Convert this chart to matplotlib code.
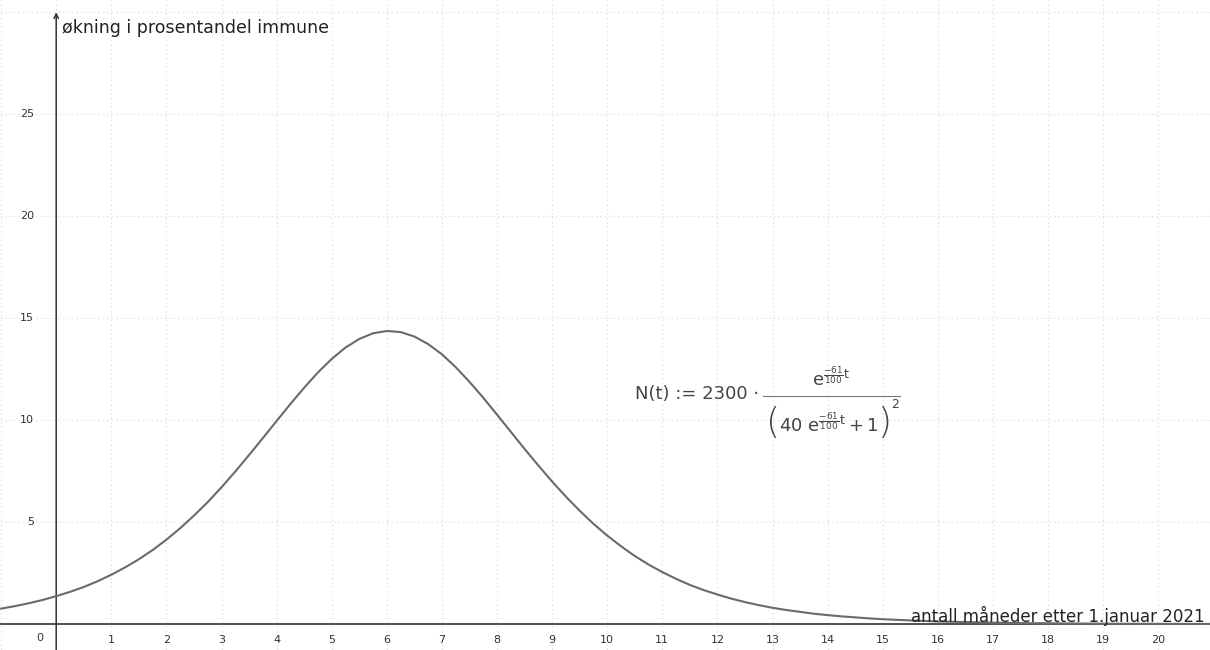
import matplotlib
matplotlib.use("Agg")
import matplotlib.pyplot as plt
from matplotlib.lines import Line2D

# Values (months after 1 Jan 2021, increase in % immune)
months = [-1.0, -0.75, -0.5, -0.25, 0.0, 0.25, 0.5, 0.75, 1.0, 1.25, 1.5, 1.75,
          2.0, 2.25, 2.5, 2.75, 3.0, 3.25, 3.5, 3.75, 4.0, 4.25, 4.5, 4.75,
          5.0, 5.25, 5.5, 5.75, 6.0, 6.25, 6.5, 6.75, 7.0, 7.25, 7.5, 7.75,
          8.0, 8.25, 8.5, 8.75, 9.0, 9.25, 9.5, 9.75, 10.0, 10.25, 10.5, 10.75,
          11.0, 11.25, 11.5, 11.75, 12.0, 12.25, 12.5, 12.75, 13.0, 13.25, 13.5,
          13.75, 14.0, 14.25, 14.5, 14.75, 15.0, 15.5, 16.0, 16.5, 17.0, 17.5,
          18.0, 18.5, 19.0, 19.5, 20.0, 20.5, 21.0]
increase = [0.76, 0.88, 1.02, 1.18, 1.37, 1.58, 1.82, 2.10, 2.42, 2.78, 3.18,
            3.63, 4.14, 4.70, 5.32, 5.98, 6.71, 7.48, 8.29, 9.12, 9.96, 10.79,
            11.59, 12.34, 13.00, 13.56, 13.98, 14.26, 14.37, 14.32, 14.10, 13.73,
            13.23, 12.60, 11.88, 11.10, 10.27, 9.43, 8.59, 7.78, 6.99, 6.25,
            5.56, 4.92, 4.34, 3.82, 3.34, 2.92, 2.55, 2.22, 1.92, 1.67, 1.45,
            1.25, 1.08, 0.93, 0.80, 0.69, 0.60, 0.51, 0.44, 0.38, 0.33, 0.28,
            0.24, 0.18, 0.13, 0.10, 0.07, 0.05, 0.04, 0.03, 0.02, 0.016, 0.012,
            0.009, 0.006]
x_ticks = list(range(1, 21))
y_ticks = [5, 10, 15, 20, 25]
x_grid = list(range(-1, 21))
y_grid = [5, 10, 15, 20, 25, 30]

y_label = "økning i prosentandel immune"
x_label = "antall måneder etter 1.januar 2021"
formula_lhs = "N(t) := 2300 ·"
formula_num = r"$\mathrm{e}^{\frac{-61}{100}\mathrm{t}}$"
formula_den = r"$40\ \mathrm{e}^{\frac{-61}{100}\mathrm{t}} + 1$"

W, H = 1210, 650
fig = plt.figure(figsize=(12.1, 6.5), dpi=100)
ax = fig.add_axes([0, 0, 1, 1])
ax.set_xlim(-1.02, 20.94)
ax.set_ylim(-1.27, 30.6)
for s in ax.spines.values():
    s.set_visible(False)
ax.set_xticks([])
ax.set_yticks([])

grid_kw = dict(color="#e2e2e2", linestyle=(0, (1.5, 2.5)), linewidth=0.8, zorder=0)
for gx in x_grid:
    ax.axvline(gx, **grid_kw)
for gy in y_grid:
    ax.axhline(gy, **grid_kw)

# axes
ax.axhline(0, color="#333333", linewidth=1.2, zorder=2)
ax.annotate("", xy=(0, 30.0), xytext=(0, -1.3),
            arrowprops=dict(arrowstyle="->", color="#333333", lw=1.1,
                            shrinkA=0, shrinkB=0, mutation_scale=8), zorder=2)

# curve
ax.plot(months, increase, color="#6a6a6a", linewidth=1.5, zorder=3)

# tick labels
for t in x_ticks:
    ax.text(t, -0.78, str(t), ha="center", va="center", fontsize=8, color="#333333")
for v in y_ticks:
    ax.text(-0.4, v, str(v), ha="right", va="center", fontsize=8, color="#333333")
ax.text(-0.29, -0.7, "0", ha="center", va="center", fontsize=8, color="#333333")

ax.text(0.1, 29.25, y_label, ha="left", va="center", fontsize=12.5, color="#222222")
ax.text(20.85, 0.4, x_label, ha="right", va="center", fontsize=12, color="#222222")

# formula (positions in figure pixels)
def fx(px):
    return px / W

def fy(py):
    return 1 - py / H

fc = "#444444"
fig.text(fx(635), fy(394), formula_lhs, ha="left", va="center", fontsize=13, color=fc)
fig.text(fx(831), fy(377), formula_num, ha="center", va="center", fontsize=13, color=fc)
fig.add_artist(Line2D([fx(763), fx(900)], [fy(396), fy(396)], color="#777777",
                      linewidth=0.8, transform=fig.transFigure))
fig.text(fx(773), fy(423), "(", ha="center", va="center", fontsize=26, color=fc,
         fontweight="light")
fig.text(fx(829), fy(423), formula_den, ha="center", va="center", fontsize=13, color=fc)
fig.text(fx(884), fy(423), ")", ha="center", va="center", fontsize=26, color=fc,
         fontweight="light")
fig.text(fx(895), fy(404), "2", ha="center", va="center", fontsize=9, color=fc)

fig.savefig("out.png", dpi=100)
